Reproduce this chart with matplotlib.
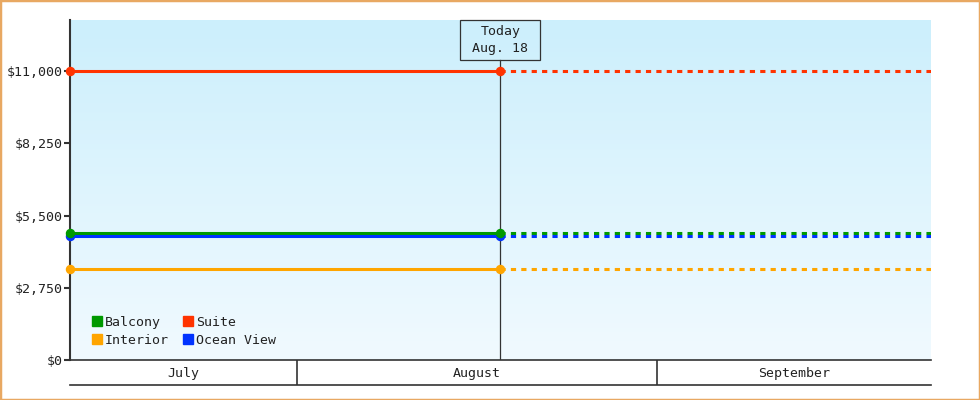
import numpy as np
import matplotlib
matplotlib.use('Agg')
from matplotlib import pyplot as plt
from matplotlib.lines import Line2D
from matplotlib.patches import Rectangle
import matplotlib.dates as mdates

# chart data
cabins = ['Balcony', 'Interior', 'Suite', 'Ocean View']
prices = [4830, 3450, 11000, 4720]
colors = ['#009900', '#FFA500', '#FF3300', '#0033FF']

start_date = np.datetime64('2024-07-12T11:00')
today_date = np.datetime64('2024-08-18T12:00')
end_date = np.datetime64('2024-09-24T14:00')
today_label = 'Today\nAug. 18'

month_names = ['July', 'August', 'September']
month_starts = [np.datetime64('2024-07-01'), np.datetime64('2024-08-01'),
                np.datetime64('2024-09-01'), np.datetime64('2024-10-01')]

y_ticks = [0, 2750, 5500, 8250, 11000]
y_max = 12950

plt.rcParams['font.family'] = ['DejaVu Sans Mono']
plt.rcParams['font.size'] = 9.5

dark = '#333333'


def to_num(d):
    return mdates.date2num(d.astype('datetime64[s]').astype(object))


fig = plt.figure(figsize=(9.8, 4), dpi=100)
ax = fig.add_axes([70 / 980, 40 / 400, 861 / 980, 340 / 400])

t0 = to_num(start_date)
t1 = to_num(today_date)
t2 = to_num(end_date)

# gradient background
grad = np.linspace(0, 1, 256).reshape(-1, 1)
top = np.array([204, 239, 252]) / 255
bot = np.array([241, 250, 255]) / 255
img = top * (1 - grad[..., None]) + bot * grad[..., None]
img = img.reshape(256, 1, 3)
ax.imshow(img, extent=[t0, t2, 0, y_max], aspect='auto', zorder=0, origin='upper')

ax.axvline(t1, ymin=0, ymax=300 / 340, color=dark, lw=0.9, zorder=1)

# lines first, then markers (green marker sits over blue one)
for i in [0, 3, 1, 2]:
    ax.plot([t0, t1], [prices[i], prices[i]], color=colors[i], lw=2.2,
            solid_capstyle='butt', zorder=2)
    ax.plot([t1, t2], [prices[i], prices[i]], color=colors[i], lw=2.2,
            dashes=(1.7, 1.7), zorder=2)
for i in [3, 0, 1, 2]:
    ax.plot([t0, t1], [prices[i], prices[i]], ls='none', marker='o',
            ms=5.8, color=colors[i], clip_on=False, zorder=3)

ax.set_xlim(t0, t2)
ax.set_ylim(0, y_max)
ax.set_yticks(y_ticks)
ax.set_yticklabels(['${:,}'.format(v) for v in y_ticks])
ax.set_xticks([])
for s in ['top', 'right', 'bottom']:
    ax.spines[s].set_visible(False)
ax.spines['left'].set_color(dark)
ax.spines['left'].set_linewidth(1.5)
ax.tick_params(axis='y', length=4, width=1.5, color=dark, pad=1, labelcolor='#222222')

# today box
fx = (t1 - t0) / (t2 - t0)
ax.add_patch(Rectangle((fx - 40 / 861, 1 - 40 / 340), 80 / 861, 40 / 340,
                       transform=ax.transAxes, fill=False, ec=dark, lw=0.9,
                       clip_on=False, zorder=4))
ax.text(t1, 1 - 20 / 340, today_label, transform=ax.get_xaxis_transform(),
        ha='center', va='center', color='#222222', linespacing=1.45, zorder=4)

handles = [Line2D([], [], ls='none', marker='s', ms=7.5, color=c) for c in colors]
ax.legend(handles, cabins, ncol=2, loc='lower left', frameon=False,
          bbox_to_anchor=(22 / 861, 13 / 340), borderaxespad=0, borderpad=0,
          handlelength=0.8, handletextpad=0.2, columnspacing=1.05,
          labelspacing=0.4, fontsize=9.5, labelcolor='#222222')

# month band below the axis
bx = fig.add_axes([70 / 980, 15 / 400, 861 / 980, 25 / 400])
bx.set_xlim(t0, t2)
bx.set_ylim(0, 1)
bx.set_xticks([])
bx.set_yticks([])
bx.patch.set_alpha(0)
for s in ['left', 'right']:
    bx.spines[s].set_visible(False)
for s in ['top', 'bottom']:
    bx.spines[s].set_color(dark)
    bx.spines[s].set_linewidth(1.2)
for k, name in enumerate(month_names):
    a = to_num(month_starts[k])
    b = to_num(month_starts[k + 1])
    lo, hi = max(a, t0), min(b, t2)
    if t0 < a < t2:
        bx.axvline(a, color=dark, lw=1.2)
    bx.text((lo + hi) / 2, 0.48, name, ha='center', va='center', color='#222222')

fig.add_artist(Rectangle((0, 0), 1, 1, transform=fig.transFigure, fill=False,
                         ec='#E8A862', lw=2.5))

fig.savefig('out.png', dpi=100)
